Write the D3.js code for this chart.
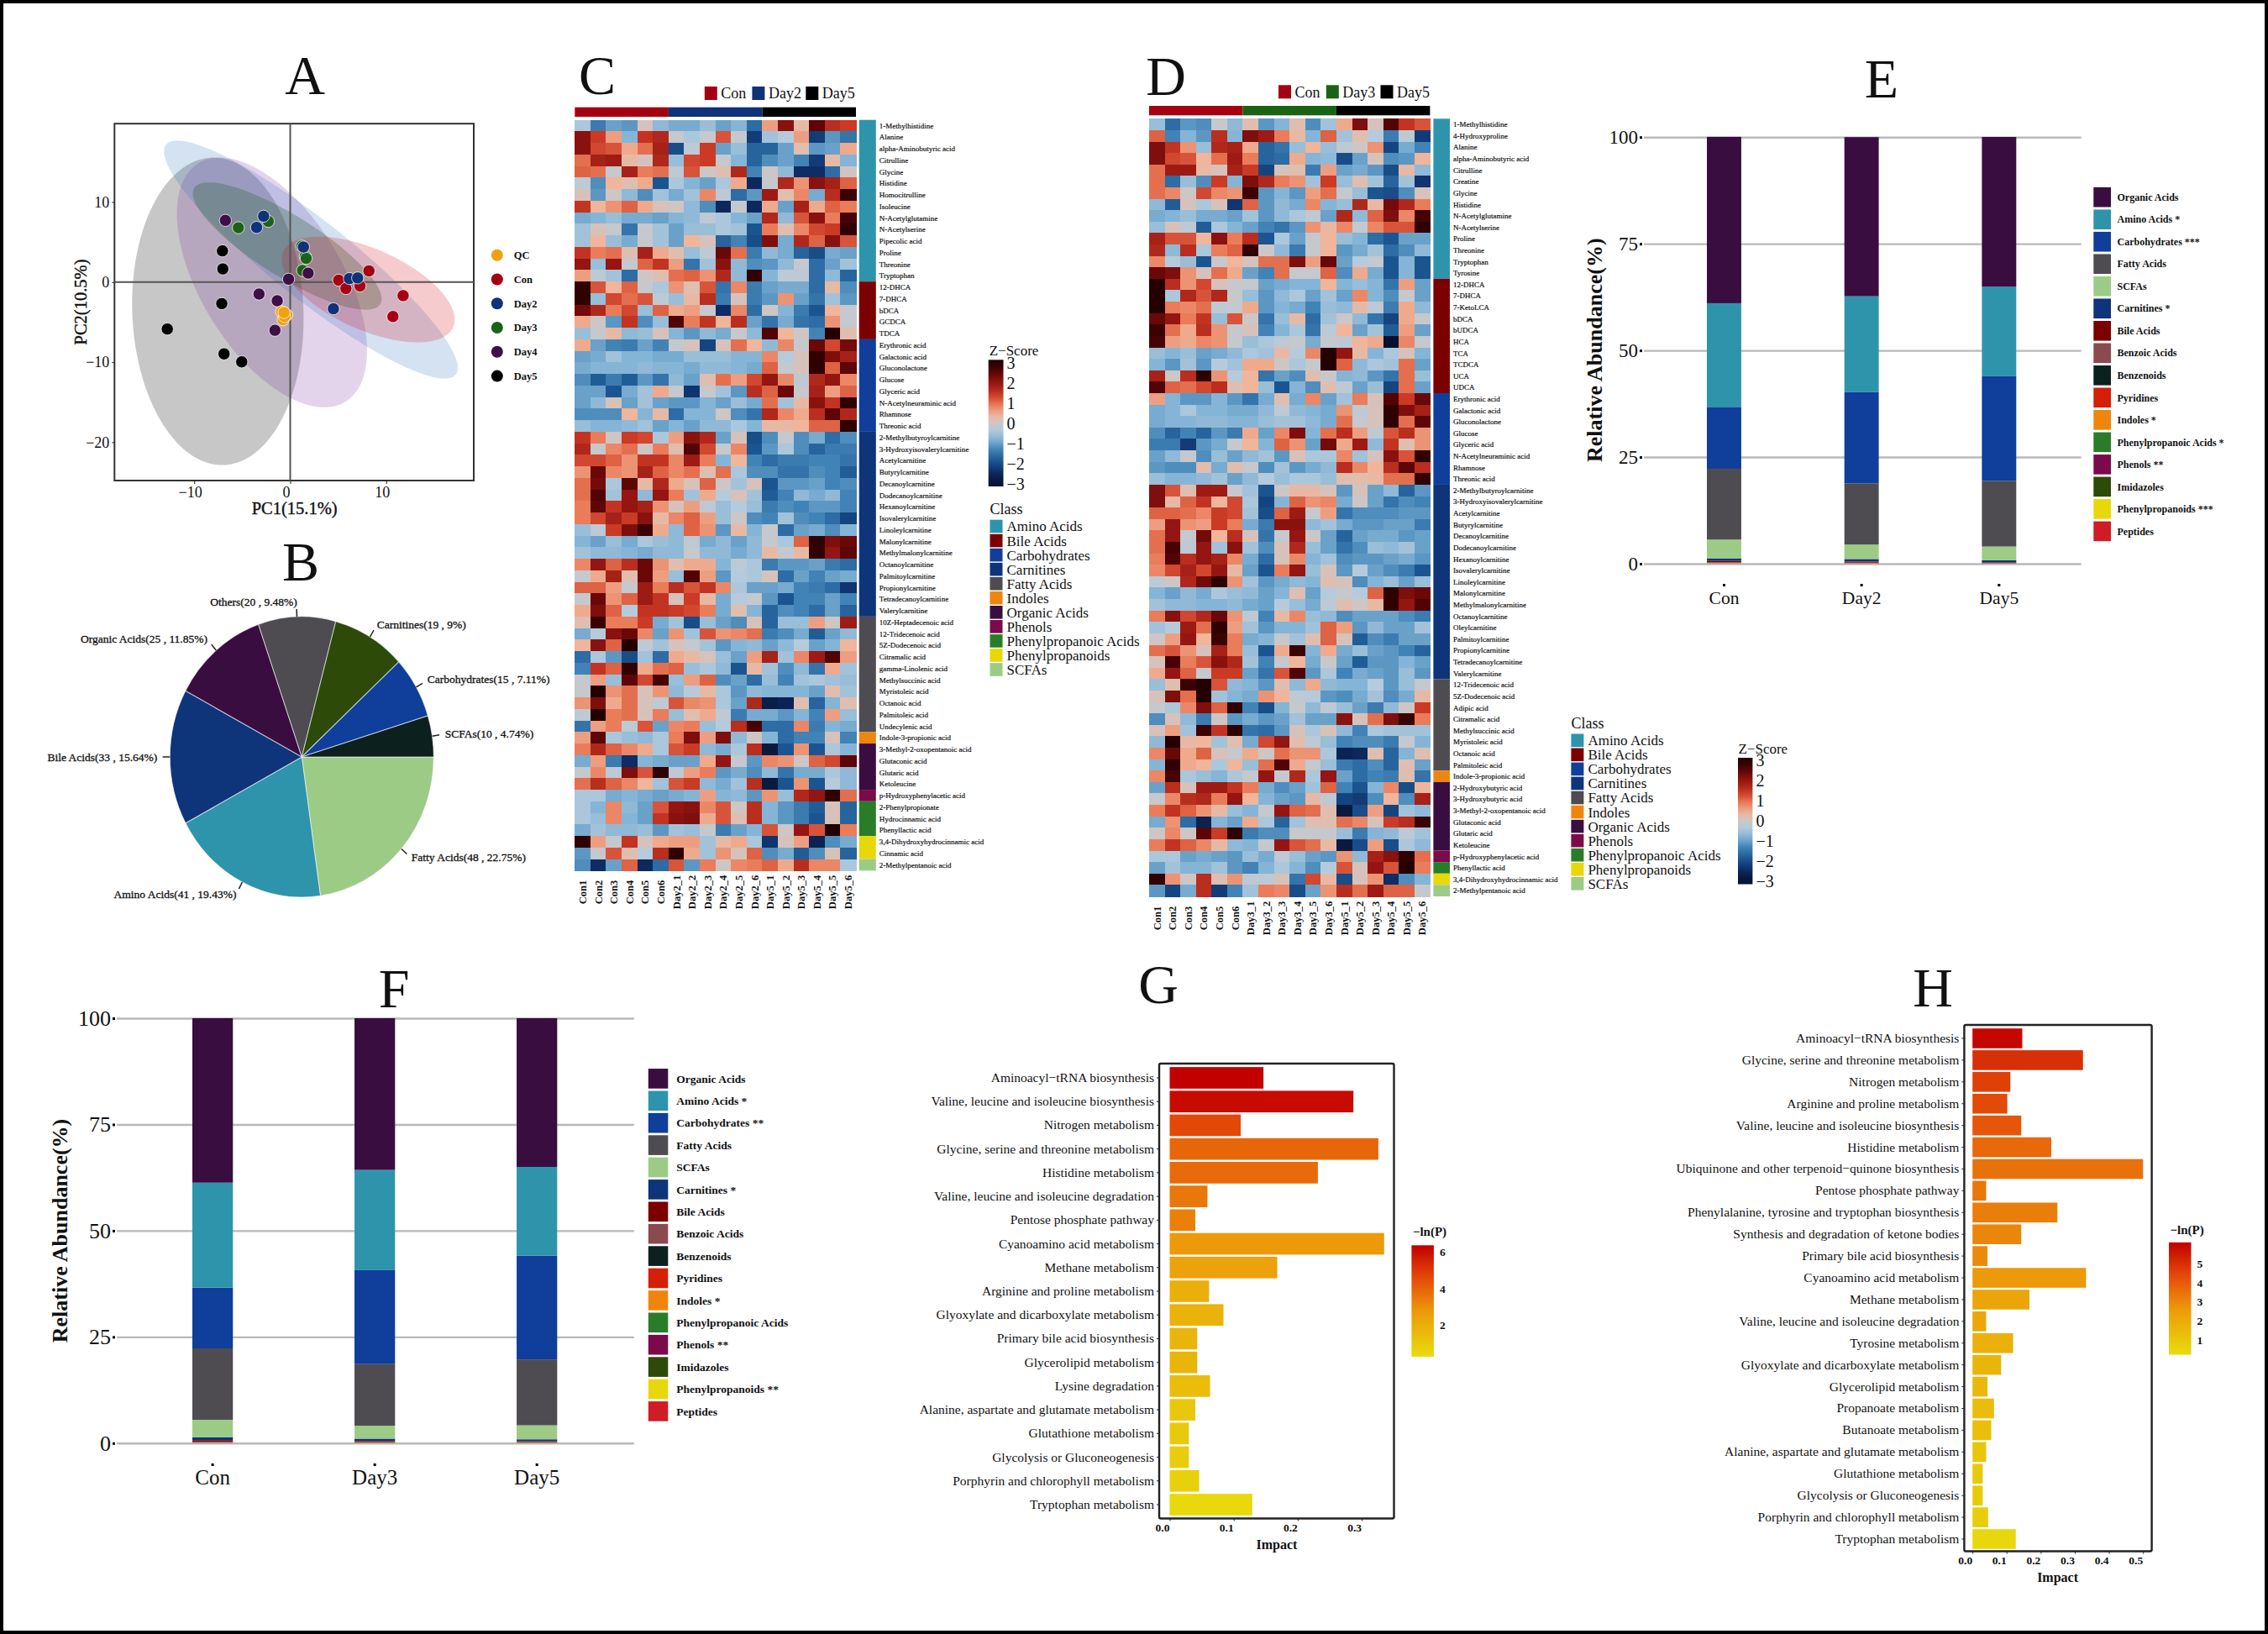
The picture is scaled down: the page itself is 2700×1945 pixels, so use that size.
<!DOCTYPE html>
<html>
<head>
<meta charset="utf-8">
<script src="https://cdn.jsdelivr.net/npm/d3@7"></script>
<style>
  body { margin: 0; background: #fff; }
  text { font-family: "Liberation Serif", serif; fill: #111; }
</style>
</head>
<body>
<div id="chart"></div>
<script>
// ---- panel A: PCA scores
const pcaGroups = ["QC", "Con", "Day2", "Day3", "Day4", "Day5"];
const pcaQC = [[-0.9, -3.7], [-0.35, -4.1], [-0.75, -4.7], [-0.6, -4.3], [-0.65, -3.8]];
const pcaCon = [[5.05, 0.24], [5.8, -0.8], [7.27, -0.48], [8.2, 1.4], [11.76, -1.69], [10.7, -4.3]];
const pcaDay2 = [[-2.77, 8.23], [-3.5, 6.83], [1.38, 4.38], [4.5, -3.33], [6.16, 0.44], [7.02, 0.52]];
const pcaDay3 = [[-5.4, 6.79], [-2.28, 7.59], [1.21, 4.5], [1.56, 3.21], [1.66, 2.97], [1.28, 1.45]];
const pcaDay4 = [[-6.75, 7.71], [1.87, 1.12], [-0.17, 0.36], [-3.25, -1.49], [-1.35, -2.33], [-1.59, -6.02]];
const pcaDay5 = [[-7.06, 3.9], [-7.02, 1.65], [-7.13, -2.69], [-12.8, -5.86], [-6.89, -8.96], [-5.05, -9.96]];
// ellipse: centre x, centre y, half width, half height, correlation
const ellDay5 = [-7.54, -3.65, 8.93, 19.2, -0.05];
const ellDay4 = [-1.9, -0.04, 9.9, 15.6, -0.55];
const ellDay2 = [2.15, 2.81, 15.3, 14.86, -0.91];
const ellDay3 = [-0.31, 4.5, 9.83, 7.95, -0.83];
const ellCon = [8.13, -0.92, 9.0, 6.6, -0.57];

// ---- panel B: class counts
const pieNames = ["Fatty Acids", "Amino Acids", "Bile Acids", "Organic Acids", "Others", "Carnitines", "Carbohydrates", "SCFAs"];
const pieCounts = [48, 41, 33, 25, 20, 19, 15, 10];
const piePercents = ["22.75%", "19.43%", "15.64%", "11.85%", "9.48%", "9%", "7.11%", "4.74%"];
const pieColors = ["#9ccb86", "#2e94ac", "#0e347a", "#3a0d40", "#4e4c50", "#2e4a08", "#0f3e9b", "#0c201e"];

// ---- panels C, D: heatmaps
const samplesC = ["Con1", "Con2", "Con3", "Con4", "Con5", "Con6", "Day2_1", "Day2_2", "Day2_3", "Day2_4", "Day2_5", "Day2_6", "Day5_1", "Day5_2", "Day5_3", "Day5_4", "Day5_5", "Day5_6"];
const samplesD = ["Con1", "Con2", "Con3", "Con4", "Con5", "Con6", "Day3_1", "Day3_2", "Day3_3", "Day3_4", "Day3_5", "Day3_6", "Day5_1", "Day5_2", "Day5_3", "Day5_4", "Day5_5", "Day5_6"];
const heatClasses = ["Amino Acids", "Bile Acids", "Carbohydrates", "Carnitines", "Fatty Acids", "Indoles", "Organic Acids", "Phenols", "Phenylpropanoic Acids", "Phenylpropanoids", "SCFAs"];
const classCountsC = [14, 5, 8, 16, 10, 1, 4, 1, 3, 2, 1];
const classCountsD = [14, 10, 8, 17, 8, 1, 6, 1, 1, 1, 1];

const metabolitesC = ["1-Methylhistidine", "Alanine", "alpha-Aminobutyric acid", "Citrulline", "Glycine", "Histidine", "Homocitrulline", "Isoleucine", "N-Acetylglutamine", "N-Acetylserine", "Pipecolic acid", "Proline", "Threonine", "Tryptophan",
  "12-DHCA", "7-DHCA", "bDCA", "GCDCA", "TDCA",
  "Erythronic acid", "Galactonic acid", "Gluconolactone", "Glucose", "Glyceric acid", "N-Acetylneuraminic acid", "Rhamnose", "Threonic acid",
  "2-Methylbutyroylcarnitine", "3-Hydroxyisovalerylcarnitine", "Acetylcarnitine", "Butyrylcarnitine", "Decanoylcarnitine", "Dodecanoylcarnitine", "Hexanoylcarnitine", "Isovalerylcarnitine", "Linoleylcarnitine", "Malonylcarnitine", "Methylmalonylcarnitine", "Octanoylcarnitine", "Palmitoylcarnitine", "Propionylcarnitine", "Tetradecanoylcarnitine", "Valerylcarnitine",
  "10Z-Heptadecenoic acid", "12-Tridecenoic acid", "5Z-Dodecenoic acid", "Citramalic acid", "gamma-Linolenic acid", "Methylsuccinic acid", "Myristoleic acid", "Octanoic acid", "Palmitoleic acid", "Undecylenic acid",
  "Indole-3-propionic acid",
  "3-Methyl-2-oxopentanoic acid", "Glutaconic acid", "Glutaric acid", "Ketoleucine",
  "p-Hydroxyphenylacetic acid",
  "2-Phenylpropionate", "Hydrocinnamic acid", "Phenyllactic acid",
  "3,4-Dihydroxyhydrocinnamic acid", "Cinnamic acid",
  "2-Methylpentanoic acid"];

const zscoresC = [
  [-.4,-1.4,-1,-1.1,.1,-.7,-.9,-.9,-.6,-1,-.8,-1.6,.6,2.1,.3,2.5,1.6,1.4],
  [2.1,1.4,.6,-.8,1.5,1.7,-.1,-.4,-.1,1.2,-.1,-2.2,-.5,-.3,.6,-2.2,-1.1,-1.5],
  [2.1,1.3,1.2,.5,1,1.8,-2,-.2,1.4,-1,-.6,-1.7,-1.7,-1,.2,-1.1,-1,.5],
  [1,1.8,1.9,.3,.1,1.7,-.6,1.3,1.4,-.1,-.8,-1.7,-1.2,-1,-1.3,-2.2,.3,-.8],
  [1.1,1,-.1,1.8,.9,1,-.2,1.2,0,.2,1.7,-1.3,0,-.7,-2.4,-2.4,-1.6,.05],
  [-.2,-1.2,.4,.2,.5,-1.9,-.4,-.8,-1,-.4,.5,-2.5,-.1,1.7,.7,2.1,1.8,1.1],
  [.1,-1.1,0,-.7,-1.2,-.5,-.9,-.5,.8,-.2,-1.6,-1.1,1.9,.2,.8,-.9,1.6,2.8],
  [1.5,.4,.7,1.1,.5,.1,0,-.7,-1.2,-2.5,-.1,-2.5,.5,-1,1.8,.5,1.1,.9],
  [-.9,-.8,-.6,-.9,-.9,-1,-.8,-.7,-.2,-.4,-.8,-1,1.7,-.7,1.2,2.1,.9,2.7],
  [-.5,.1,-.1,-1.5,-.1,-.5,-1,-.6,-.6,-.4,-.5,-1.9,.9,.2,.8,1.3,1.4,2.9],
  [-.5,.4,-.6,-.9,-.1,-.5,-1,.4,.1,-1.7,-1.3,-2,2.2,-.9,1.7,1.1,2.1,1.2],
  [1.5,.9,1,.2,1.8,.5,.2,-.6,-.2,2.4,1,-1.4,-.7,-.9,-1.7,-2,-.9,-1],
  [2,-.6,2,-.1,1.1,1.5,.6,-1.5,-.5,2.1,-.7,-1.2,-1.1,-.7,-.1,-1.6,-1,-.5],
  [.6,-.2,-.5,-1.6,0,.2,1,1.1,.7,1.7,-.7,2.9,-.8,-.2,-.2,-1.6,-.7,-1.7],
  [2.9,1.2,.4,1.1,-.1,-.4,.7,.2,1.2,-1.5,.8,-1.4,-1,-.9,-.9,-1.6,.3,-1.2],
  [2.9,-.6,1.3,1,1.2,-.2,-.6,.3,1.6,-1.4,.1,-1.4,-1.1,.7,-1,-1.5,-.5,-1.1],
  [2.3,1.7,.9,1.3,-.6,1.1,.5,.6,-.1,-2.4,.8,-1.6,0,-.8,-1.4,-1.9,.4,-.1],
  [.5,0,-1.1,1.5,-1.2,-.6,2.6,.9,1.5,.4,1.6,-1,-1.5,-.9,-1.5,-1.6,.7,-.1],
  [-.6,-.1,.3,-.7,-.6,.1,-.8,-1.1,-.7,-.9,-.1,-.7,2.6,.4,0,-1.3,3,.2],
  [.5,-1,-1.3,-1.4,-1,-1.3,-.1,.1,-2.1,.1,1,.4,-.7,.8,-.1,2.4,1.3,2.3],
  [-1,-.9,-.5,-.8,-.8,-.9,-.9,-.6,-.6,-.6,-.8,-.8,.8,-.3,.1,2.9,2.2,1.8],
  [-.9,-.8,-.8,-.8,-.7,-.8,-.8,-.9,-.7,-.7,-.8,-.9,1.1,-.1,.1,2.9,1.1,2.5],
  [-1.2,-1.8,-1.4,-1.8,-1.1,-1.5,-.7,-1,.2,1,.6,1.3,2,.8,-.2,1.7,2,.8],
  [-1,-1,-1.9,-.9,-.5,.5,-.1,-2.3,-.1,-.5,-1.1,1.6,1.1,2.4,-.1,1.8,.6,1.1],
  [-1,-.7,.1,-1,-.5,-1,-1.1,-1.1,-.8,-1,-.6,-.9,1,-.5,.3,2.1,1.5,2.9],
  [-1.2,-1.2,-1.2,.4,-.8,.3,-1.6,-.8,-.8,0,-1.2,-1.5,1.7,.8,.5,1.6,2.5,1.7],
  [-.6,-.8,-.8,-.7,-.5,-1,-.8,-1,-.7,-.7,-.4,-.8,.3,.3,.4,1.1,1.1,2.9],
  [1.5,.9,0,1.4,1.3,-.4,.6,2.1,1.7,-1,.1,-2,-1.2,-.1,-1.2,-.9,-1.6,-1.2],
  [1.7,-.1,.8,1,0,.9,.2,2.6,1.3,-.1,.8,-1.9,-1.1,-.4,-1.2,-1.7,-1.4,-1.4],
  [1.3,1.3,1.1,.7,1.5,1.5,.8,1.9,.9,-.8,.4,-1.3,-1.6,-1.4,-1.4,-1.3,-1.3,-1.5],
  [.7,2.4,.8,.7,1.8,1.1,.8,1,.2,1,-.4,-1.2,-1.2,-1.5,-1.5,-1.2,-1.3,-1.8],
  [1,2.3,-.4,2.5,.3,1.7,.5,.1,1.1,0,-.5,.1,-1.9,-1.1,-1.1,-1,-1.3,-1.2],
  [1,2.6,-.5,2,-.7,2,.9,-.5,.5,-.3,.1,-.5,-1.8,-1.3,-.7,-.9,-.7,-1.3],
  [.9,2.5,1.5,2,1.8,.7,.1,.6,-.2,-.6,-.3,-.6,-1.4,-1.2,-1.3,-1.1,-1.1,-1.3],
  [.9,1.3,1.8,1.4,2.1,.3,.8,1.1,.6,-.6,0,-1.2,-1.3,-.5,-1.2,-1.3,-1.6,-2.1],
  [-.6,-.2,1.4,2.2,2.8,.5,-.7,1.1,.7,-1.1,.3,-.8,-.1,-1.6,-1,-.9,-1.2,-.8],
  [-.8,-1,-.6,-.9,-.4,-.6,-.7,-.2,-.9,-.7,-1,-.7,-.1,-.4,1.1,2.9,2.2,2.4],
  [-.5,-.7,-.7,-.8,-.9,-.7,-.7,-.1,-.7,-.7,-.9,-.7,.3,-.1,.3,2.9,2,2.5],
  [.8,2,1.1,1.6,2.4,.7,.2,.5,.5,-.8,-.2,-.4,-1.4,-1.1,-1.1,-1,-1.4,-1.6],
  [-.1,.5,1.8,.2,2.4,.6,-.6,2.6,.6,-1.1,-.3,-.4,.1,-1.6,-1,-1.3,-1,-.9],
  [1.1,1.1,.6,-.1,1.9,.9,1.6,1.2,1.5,.8,-.4,-1,-1,-.9,-1.3,-1.4,-1.6,-2.3],
  [-.1,2.4,.7,1.1,1.9,1.5,.1,1.4,.3,-.9,-.3,-.1,-1.1,-1.9,-1.3,-1.3,-1,-1.3],
  [.5,2.2,1.1,-.3,1.5,1.5,1.4,1.3,.9,-.9,.2,-.8,-1.7,-1.2,-1.3,-1.6,-1,-1.7],
  [.2,2.8,.9,.9,1.4,-.9,-.5,-2,-.6,-1,-1.2,.1,-1.7,-.6,-.6,.6,0,1.9],
  [-.9,-.3,2.1,2.4,.8,-1,.7,-.5,1.2,.7,.8,1,-1.4,-1.2,-.9,-1.8,-1,-.7],
  [.4,2.1,1.1,3,-.2,-.5,.1,-.1,-.5,-1.1,-.8,-.7,-1,-.7,-.3,-1,-.8,.4],
  [-1.6,-.4,-1.1,-2,-.5,-1.6,.5,.3,.1,-.6,-1,.6,1.8,-.5,.8,1.9,2.6,.6],
  [-1.3,1.5,1.1,2.9,.5,1,1.1,-.6,-.4,-.7,-1.9,.3,-.5,-1.2,-.7,-1.5,.5,-.5],
  [-.1,.6,-.6,2.5,1.3,2.7,-.6,.6,1.1,-1.2,-1,-1.6,-.6,-1.3,-.5,-.4,-.5,-.6],
  [-.1,3,.7,1,.1,.7,-.7,-.3,.3,-.4,-1.1,-.7,-.8,-.8,-.8,-1,.2,-.5],
  [.7,2.2,.5,1,.1,-.2,1.2,.8,.7,-.4,-1,1.7,-2.7,-2.6,.2,-1.7,-.8,.2],
  [-.2,3,.9,1,.1,.9,-.6,.2,.5,-.2,-1.4,-.9,-.9,-1.1,-.8,-1.3,.6,-.6],
  [-1.5,.6,.9,-.2,1.2,-1,.8,.9,-.6,-.3,1.6,2.7,-1.6,-1.6,.8,-1.4,-.8,-.9],
  [.6,2.5,-.4,-.6,-.7,-.4,.9,2.2,.6,2.2,-.7,0,-.8,-1.6,-1.3,-1.3,.1,-1.3],
  [.9,1.7,1.1,.8,.5,-.4,1.2,1.4,-.7,-.9,-.4,1.6,-2.8,-1.9,.7,-1.9,-.4,-.8],
  [-.9,.6,-1.4,-2.4,-.8,-.9,-1,-1,.5,2,-.1,-1.1,.8,.7,0,1.1,1.3,2.5],
  [-.1,.8,-.2,2.2,1.2,2.9,-.2,.6,.9,-1.1,-.9,-1.2,-.7,-1.5,-.9,-.9,-.4,-.7],
  [1,1.6,1.1,.8,.4,-.5,1.2,1.4,-.7,-.9,-.5,1.6,-2.8,-1.9,.7,-1.9,-.3,-.7],
  [-.4,-.4,-.9,-.8,-.9,-1,-.9,-.8,.6,-.8,-.7,-1.1,.7,-.6,1.7,2,2.9,1],
  [-.4,-.8,.8,-.7,-1,1.2,2,2.1,.8,1.2,0,1.6,-.8,-1.1,-1.4,-1.8,.1,-1.7],
  [-.4,-.6,.8,-.8,-1,1.5,2.1,2.2,.5,1.2,.2,1.6,-.8,-1.1,-1.4,-1.9,.1,-1.7],
  [-.9,-.5,-.7,-.7,-.6,-1.1,-.5,-.6,-.1,-1.4,-1,-.8,1.2,0,2,1.2,3,.9],
  [2.9,.6,-.1,1.5,.1,.5,.6,.6,-.5,.3,.5,-.4,-2.3,.1,.6,-2.6,-1.2,-.9],
  [-1.1,-.1,1.2,.2,-.3,1.6,2.9,.5,-.5,.7,.1,1.1,-1.2,-.9,-1.8,-1.2,.1,-1.7],
  [-1.2,-2.4,-1,1.1,-2.5,-1.6,1.2,-1.1,.9,0,.8,.9,1.1,.5,1.6,.8,.8,-.4]
];

const metabolitesD = ["1-Methylhistidine", "4-Hydroxyproline", "Alanine", "alpha-Aminobutyric acid", "Citrulline", "Creatine", "Glycine", "Histidine", "N-Acetylglutamine", "N-Acetylserine", "Proline", "Threonine", "Tryptophan", "Tyrosine",
  "12-DHCA", "7-DHCA", "7-KetoLCA", "bDCA", "bUDCA", "HCA", "TCA", "TCDCA", "UCA", "UDCA",
  "Erythronic acid", "Galactonic acid", "Gluconolactone", "Glucose", "Glyceric acid", "N-Acetylneuraminic acid", "Rhamnose", "Threonic acid",
  "2-Methylbutyroylcarnitine", "3-Hydroxyisovalerylcarnitine", "Acetylcarnitine", "Butyrylcarnitine", "Decanoylcarnitine", "Dodecanoylcarnitine", "Hexanoylcarnitine", "Isovalerylcarnitine", "Linoleylcarnitine", "Malonylcarnitine", "Methylmalonylcarnitine", "Octanoylcarnitine", "Oleylcarnitine", "Palmitoylcarnitine", "Propionylcarnitine", "Tetradecanoylcarnitine", "Valerylcarnitine",
  "12-Tridecenoic acid", "5Z-Dodecenoic acid", "Adipic acid", "Citramalic acid", "Methylsuccinic acid", "Myristoleic acid", "Octanoic acid", "Palmitoleic acid",
  "Indole-3-propionic acid",
  "2-Hydroxybutyric acid", "3-Hydroxybutyric acid", "3-Methyl-2-oxopentanoic acid", "Glutaconic acid", "Glutaric acid", "Ketoleucine",
  "p-Hydroxyphenylacetic acid",
  "Phenyllactic acid",
  "3,4-Dihydroxyhydrocinnamic acid",
  "2-Methylpentanoic acid"];

const zscoresD = [
  [-.6,-1.6,-1.1,-1.2,-.1,-.7,.2,-1.1,-.8,.2,-1.2,-.5,.5,2.2,.1,2.6,1.5,1.2],
  [1.1,-1.3,-.8,-1.1,1.6,-.8,2.2,1.9,.9,.3,-.8,1.1,-.5,.2,-.3,-1.4,-.2,-2.2],
  [2.2,1.5,.7,-.6,1.7,1.8,.5,-1.7,-1.5,-.6,.4,-.6,-.2,0,.7,-2.1,-.9,-1.3],
  [2.2,1.3,1.2,.4,1,1.9,.9,-1.7,-1.6,.5,-.8,-.7,-2,-1,.1,-1.2,-1.1,.4],
  [1,1.9,1.9,.3,.1,1.8,1.4,-2.1,.1,.2,-1.4,.6,-1,-.9,-1.1,-2,.3,-.7],
  [1,-1.6,-.6,-1.2,1.4,-.8,2.2,1.7,.9,.7,-.5,1.4,-.6,.2,-.5,-1.7,-.5,-2.3],
  [1,.8,0,1.3,.8,.7,2.8,-1.1,-.8,-1.1,.6,1,-.1,-.6,-1.9,-2,-1.2,.1],
  [-.7,-1.8,.1,-.4,.1,-2.3,1.1,-1.1,-.7,-.9,.8,-.8,-.6,1.7,.3,2.3,1.7,.9],
  [-.9,-.8,-.6,-.9,-.9,-1,-.5,-1.1,-.7,-.4,-.2,-1,1.7,-.7,1.1,2.2,.8,2.7],
  [-.6,.1,-.2,-1.8,-.4,-.8,-1,-1.3,-1.5,-1.1,.7,.3,.8,-.1,.8,1.2,1.2,2.9],
  [1.8,1.2,1.2,.4,2.1,.9,1.6,-1.9,-.4,-1,-.1,.4,-.6,-.8,-1.6,-1.9,-1,-1],
  [1.7,-.7,1.6,-.4,.9,1.1,2.9,0,-.7,-1.4,-.1,.4,-1.1,-.9,-.5,-1.6,-1.2,-.7],
  [.8,-.3,-.6,-1.9,-.1,.4,.1,1,1,2.2,.6,2.4,-1,-.3,-.1,-1.9,-.8,-1.9],
  [2.4,2.2,.7,.1,1,.5,-1,-1.3,1,-.1,-.1,1.1,-1.2,.5,-.9,-1.9,-.8,-1.9],
  [3,1.6,.7,1.3,.1,-.1,-.1,-1,-.9,-.8,-.8,.4,-.8,-.6,-.8,-1.5,.6,-1],
  [3,-.4,1.7,1.2,1.7,-.1,-.6,-1.1,-.7,-.4,-1,-.5,-1,.8,-.8,-1.2,-.1,-1],
  [3,.9,.8,1,-.2,-.1,.5,-1.1,-.8,-.9,-1.3,-.6,-.7,.3,-.2,-1.4,.5,-.7],
  [2.4,2,.9,1.5,-.6,1.2,0,-1.5,-.6,.3,-1.6,-.5,0,-.7,-1.5,-2.1,.5,-.1],
  [2.8,1,.5,1.6,.7,-.1,.1,-1.3,-.8,-.4,-1.5,-.2,.4,-1,-.5,-1.8,.6,-1],
  [2.7,.6,.5,.8,.7,-.1,-.6,-.4,-.2,-.1,-.9,-.1,-.2,.4,.5,-3,.8,-.1],
  [-.6,-.8,-.6,-1,-.9,-.7,-.4,-.5,.3,-.3,.8,3,2,.3,-.8,-.4,.1,-.8],
  [-.8,-1.1,-.5,-1.1,-.3,-.5,.5,.5,0,-.4,-.1,3,1.1,-.7,-.4,-.5,1,-1],
  [1.8,0,1.6,2.9,.7,-.3,.4,-1.5,-1,-1.2,.2,-.1,-.8,-.7,-1.1,-1.5,1,-.6],
  [2.6,1.1,1,1.3,1.6,.2,.4,-.6,-1.9,-.8,-1.2,.2,-.2,-1,-.6,-2.1,1,-1],
  [.6,-.8,-1.1,-1.1,-.8,-1.1,-1.5,-.9,.2,-.9,.8,-1,-.5,.9,.1,2.6,1.4,2.4],
  [-.9,-.8,-.4,-.8,-.8,-.9,-.9,-.7,-.2,-.7,-.8,-.9,.7,-.2,.1,2.9,2.2,1.8],
  [-.9,-.8,-.8,-.7,-.7,-.8,-.8,-.6,-.5,-.5,-.7,-.9,1,-.1,.1,2.9,1,2.5],
  [-1.2,-1.7,-1.3,-1.7,-1.1,-1.4,.5,-1,.8,2.2,-.8,1,1.6,.6,-.2,1.2,1.6,.7],
  [-1.4,-1.4,-2.2,-1.1,-.9,-.1,.4,-.8,1.1,.7,-1,2.3,.5,1.9,-.7,1.5,.2,.7],
  [-1,-.7,-.1,-1.2,-.6,-1,-.7,-.5,-1.1,.1,-.4,-.4,.8,-.5,.1,2.1,1.2,2.9],
  [-1.1,-1.2,-1.2,.2,-.9,.2,-.1,-1.2,-.5,-1.1,-.9,-.7,1.6,.8,.4,1.6,2.5,1.6],
  [-.6,-.8,-.8,-.7,-.5,-1,-.7,-.3,-.6,-.4,-.4,-.6,.2,.2,.3,1,1,2.9],
  [2.2,1.2,.2,1.9,1.9,-.1,-.5,-1.9,0,.3,.3,.1,-1.1,.1,-1,-.7,-1.7,-1.1],
  [2.2,.3,1.1,1.5,.4,1.3,-.4,-2.1,-.8,1.1,.7,.8,-.9,0,-1,-1.5,-1.2,-1.3],
  [1.1,1.1,1,.8,1.4,1.3,-.5,-2,1.1,1.9,-.1,.6,-1.5,-1.2,-1.2,-1.2,-1.1,-1.1],
  [.6,2,.7,.6,1.4,.9,-.9,-1.4,2.1,2.1,-.7,-.5,-.9,-1.1,-1.1,-1,-1,-1.4],
  [1,2,-.1,2.3,.4,1.6,.1,-1.5,-.1,2,0,-1,-1.7,-1,-.9,-.9,-1.1,-1],
  [1,2.7,-.2,2,-.5,2.1,-.5,-1.2,.1,1.7,-.6,-1,-1.5,-1.2,-.6,-.7,-.5,-1],
  [.9,2.6,1.6,2,1.8,.8,-.9,-1.6,.1,.8,-.8,-.5,-1.2,-1.1,-1.1,-1,-.9,-1.1],
  [.8,1.3,1.8,1.3,2,.3,-1,-1.9,.9,2,-.6,.1,-1.1,-.3,-1,-1.2,-1.4,-1.9],
  [-.2,0,1.7,2.3,2.9,.7,-.5,-1.1,-.9,-.7,-.8,.2,.1,-1.2,-.8,-.6,-1,-.6],
  [-.8,-1,-.7,-.9,-.4,-.6,-.7,-1,-.8,.2,-1,-.3,-.1,-.3,1.1,2.9,2.2,2.4],
  [-.5,-.7,-.7,-.8,-.8,-.7,-.9,-1,-.3,-.6,-.9,-.2,.2,0,.3,2.9,2,2.6],
  [.9,2.1,1.3,1.7,2.4,.7,-.2,-1.3,.3,.8,-.6,-.7,-1.2,-1,-1,-1,-1.2,-1.4],
  [-.5,-.3,1.9,1,2.9,.6,-.5,-1.1,-.8,-.8,-.5,1.1,.6,-1.1,-.7,-1,-1,-.5],
  [0,.6,2,.4,2.8,.9,-.9,-.8,-.1,-.5,.2,1.1,.1,-1.8,-1.2,-1.4,-1,-1],
  [1,1.2,.7,.1,1.8,.9,-.6,-1.9,.5,2.8,-.8,.5,-.9,-.6,-1,-1.1,-1.3,-1.7],
  [.1,2.7,.9,1.2,2.1,1.7,-.5,-1.3,-.1,.4,-.9,-.1,-1,-1.8,-1.1,-1.1,-.8,-1],
  [.5,2,1.1,-.1,1.4,1.4,-1,-1.5,1.2,2.6,-1.1,-.4,-1.3,-.9,-1,-1.1,-.6,-1.1],
  [-.6,.2,2.8,3,1.2,-.7,-.8,-1.1,.2,-.7,.5,-.7,-.8,-.8,-.3,-1.1,-.6,-.1],
  [.1,2.2,1,3,-.5,-.8,-.9,.7,.4,-.2,-.3,-1.1,-1.2,-.9,-.5,-1.2,-.9,.3],
  [-.1,-.4,.8,2.2,1.1,2.9,-1.3,-2,-.8,-.1,-.7,-.2,-.6,-1,-1.4,-.7,0,1.4],
  [-1.2,.1,-.7,-1.4,0,-1.1,-.9,-1.1,-1,-.5,-1,-1,2.1,.1,1,2.2,2.8,.9],
  [.1,.6,-.5,2.8,1.5,2.9,-1.5,-1.6,-1.1,.1,-.4,.1,-.7,-1.3,-.4,-.5,-.5,-.5],
  [-.7,3,.3,.4,-.5,.2,-.9,1.3,2,.2,-.2,-.6,-1.3,-1.2,-1.2,-1.4,-.1,-.8],
  [.8,2.4,.5,1.1,.1,-.1,.5,0,1,.7,.7,-.4,-2.6,-2.5,.2,-1.7,-.8,.2],
  [-.8,2.9,.5,.4,-.4,.4,-.6,1,2.6,.5,-.1,-.6,-1.4,-1.6,-1.2,-1.7,.2,-1],
  [.8,2.7,-.4,-.6,-.8,-.4,-.1,2,-.1,1.7,-.4,2,-1,-1.6,-1.3,-1.4,.2,-1.5],
  [-1,1.6,.1,1.9,1.9,1.5,.9,-.9,-1.2,-1,-.5,1.1,-1.3,-1.9,-.8,.8,-2,.4],
  [-.1,.8,1.6,1.7,.9,2,.4,-.8,-1,-1.1,.3,-.2,-2.1,-2.2,-1.2,.4,-1.2,1.8],
  [.9,1.5,1.1,.7,.3,-.6,-.8,-.1,2,1.1,1,.2,-2.8,-2,.6,-2.1,-.5,-.7],
  [-.9,.7,-1.6,-2.6,-.8,-1,.5,-.4,-1.7,-.5,.2,.2,1,.8,.1,1.4,1.6,2.8],
  [0,.8,0,2.5,1.4,2.9,-1.4,-1.2,-1.2,-.1,-.1,-.1,-.6,-1.4,-.8,-.7,-.2,-.5],
  [.9,1.5,1.1,.8,.3,-.7,-.8,-.1,2,1.2,1,.3,-2.8,-2,.6,-2,-.4,-.7],
  [-.4,-.4,-1,-.9,-1,-1.1,-.6,-.9,-.2,-.6,-1,-1.1,.7,-.7,1.8,2.1,2.9,1],
  [-1,-.5,-.8,-.8,-.5,-1.1,-1.3,-.8,-.4,-.8,-1.2,-.3,1.2,.1,2,1.2,3,.9],
  [2.9,.7,0,1.6,.2,.7,-.2,-.2,.1,-1.5,1.3,.3,-2,.1,.7,-2.4,-1.2,-.8],
  [-1.1,-2.1,-.9,1.6,-2.2,-1.3,-.5,.9,.8,-2,-1,.7,1.6,1,1.9,1.1,1.1,-.1]
];
const zTicks = [-3, -2, -1, 0, 1, 2, 3];

// ---- panels E, F: stacked abundance
const stackClasses = ["Organic Acids", "Amino Acids", "Carbohydrates", "Fatty Acids", "SCFAs", "Carnitines", "Bile Acids", "Benzoic Acids", "Benzenoids", "Pyridines", "Indoles", "Phenylpropanoic Acids", "Phenols", "Imidazoles", "Phenylpropanoids", "Peptides"];
const starsE = ["", "*", "***", "", "", "*", "", "", "", "", "*", "*", "**", "", "***", ""];
const starsF = ["", "*", "**", "", "", "*", "", "", "", "", "*", "", "**", "", "**", ""];
const stackGroupsE = ["Con", "Day2", "Day5"];
const stackGroupsF = ["Con", "Day3", "Day5"];
const abundE = [
  [39.0, 24.3, 14.5, 16.6, 4.4, .6, .35, .03, .02, .05, .09, .02, .02, .02, .04, .02],
  [37.3, 22.5, 21.4, 14.3, 3.4, .6, .25, .03, .02, .05, .06, .01, .02, .01, .03, .02],
  [35.1, 21.0, 24.5, 15.4, 3.2, .5, .15, .02, .02, .03, .05, .01, .01, .01, .02, .01]
];
const abundF = [
  [38.7, 24.7, 14.3, 16.8, 4.1, .7, .4, .03, .02, .05, .09, .02, .02, .02, .04, .01],
  [35.7, 23.6, 22.1, 14.5, 3.05, .55, .25, .03, .02, .05, .06, .01, .02, .01, .03, .02],
  [35.0, 20.9, 24.4, 15.5, 3.3, .45, .2, .03, .02, .05, .06, .01, .02, .01, .03, .02]
];
const abundTicks = [0, 25, 50, 75, 100];

// ---- panels G, H: pathway impact
const pathwaysG = ["Aminoacyl\u2212tRNA biosynthesis", "Valine, leucine and isoleucine biosynthesis", "Nitrogen metabolism", "Glycine, serine and threonine metabolism", "Histidine metabolism", "Valine, leucine and isoleucine degradation", "Pentose phosphate pathway", "Cyanoamino acid metabolism", "Methane metabolism", "Arginine and proline metabolism", "Glyoxylate and dicarboxylate metabolism", "Primary bile acid biosynthesis", "Glycerolipid metabolism", "Lysine degradation", "Alanine, aspartate and glutamate metabolism", "Glutathione metabolism", "Glycolysis or Gluconeogenesis", "Porphyrin and chlorophyll metabolism", "Tryptophan metabolism"];
const impactG = [.1465, .287, .111, .326, .2315, .059, .04, .335, .168, .0615, .084, .043, .043, .063, .04, .03, .03, .046, .129];
const lnPG = [6.38, 6.1, 4.6, 3.9, 3.8, 3.5, 3.3, 2.7, 2.4, 1.9, 1.8, 1.7, 1.7, 1.4, 1.0, .9, .85, .7, .4];
const pathwaysH = ["Aminoacyl\u2212tRNA biosynthesis", "Glycine, serine and threonine metabolism", "Nitrogen metabolism", "Arginine and proline metabolism", "Valine, leucine and isoleucine biosynthesis", "Histidine metabolism", "Ubiquinone and other terpenoid\u2212quinone biosynthesis", "Pentose phosphate pathway", "Phenylalanine, tyrosine and tryptophan biosynthesis", "Synthesis and degradation of ketone bodies", "Primary bile acid biosynthesis", "Cyanoamino acid metabolism", "Methane metabolism", "Valine, leucine and isoleucine degradation", "Tyrosine metabolism", "Glyoxylate and dicarboxylate metabolism", "Glycerolipid metabolism", "Propanoate metabolism", "Butanoate metabolism", "Alanine, aspartate and glutamate metabolism", "Glutathione metabolism", "Glycolysis or Gluconeogenesis", "Porphyrin and chlorophyll metabolism", "Tryptophan metabolism"];
const impactH = [.146, .324, .111, .102, .143, .231, .5, .04, .249, .143, .044, .333, .167, .04, .119, .084, .044, .063, .055, .04, .03, .03, .046, .127];
const lnPH = [5.95, 5.0, 4.6, 4.4, 4.1, 3.7, 3.5, 3.35, 3.2, 3.0, 2.95, 2.6, 2.2, 2.1, 1.8, 1.6, 1.5, 1.35, 1.25, 1.0, .9, .85, .75, .4];

// ---- colours
const classColor = {
  "Amino Acids": "#2e94ac", "Bile Acids": "#7b0000", "Carbohydrates": "#0f3e9b", "Carnitines": "#0e347a",
  "Fatty Acids": "#4e4c50", "Indoles": "#ee860e", "Organic Acids": "#3a0d40", "Phenols": "#7b0a4a",
  "Phenylpropanoic Acids": "#2a7d28", "Phenylpropanoids": "#e8d80a", "SCFAs": "#9ccb86",
  "Benzoic Acids": "#8b4a50", "Benzenoids": "#0c201e", "Pyridines": "#d42006", "Imidazoles": "#2e4a08",
  "Peptides": "#d01c24"
};
const groupColor = { QC: "#f0a010", Con: "#a50012", Day2: "#0f3278", Day3: "#1b6314", Day4: "#3e0f48", Day5: "#000000" };

const zColor = d3.scaleLinear()
  .domain([-3, -2.4, -1.9, -1.3, -0.8, -0.3, 0, 0.4, 0.9, 1.4, 2, 2.5, 3])
  .range(["#06112f", "#0e2c66", "#1a5591", "#4183b6", "#85b5d6", "#b5cbdc", "#cdc6c5", "#f0b59a", "#ea7c5a", "#cb3a24", "#941511", "#5e0505", "#240000"])
  .clamp(true);

const impactStops = d3.scaleLinear()
  .domain([0, 0.4, 0.68, 1])
  .range(["#e8dc0c", "#ec9a0a", "#e6500a", "#c20000"]);

const svg = d3.select("#chart").append("svg")
  .attr("width", 2700)
  .attr("height", 1945)
  .attr("viewBox", "0 0 2700 1945");

svg.append("rect").attr("width", 2700).attr("height", 1945).attr("fill", "#fff");
svg.append("rect").attr("x", 2).attr("y", 2).attr("width", 2696).attr("height", 1941)
  .attr("fill", "none").attr("stroke", "#000").attr("stroke-width", 4);

const defs = svg.append("defs");

function panelTitle(label, x, y) {
  svg.append("text").attr("x", x).attr("y", y)
    .attr("text-anchor", "middle").attr("dominant-baseline", "central")
    .attr("font-size", 66).text(label);
}

function styleAxis(g, size, weight, color) {
  g.selectAll("text").attr("font-size", size).attr("font-weight", weight || "normal")
    .style("font-family", "'Liberation Serif', serif").style("fill", "#111");
  g.selectAll("line").attr("stroke", color || "#222");
  g.select(".domain").remove();
}

// thin outline makes the small regular text read as heavy as the blurred original
function heavy(sel, w) {
  return sel.attr("stroke", "#111").attr("stroke-width", w || 0.25);
}

// ------------------------------------------------------ A
function drawPca() {
  const x = d3.scaleLinear().domain([-10, 10]).range([231.2, 459.8]);
  const y = d3.scaleLinear().domain([-20, 10]).range([526.4, 240.5]);
  const box = { l: 136.3, r: 564, t: 147.2, b: 572 };
  panelTitle("A", 363, 89);

  const ellipse = ([cx, cy, sx, sy, rho]) => {
    const phi = Math.acos(rho);
    const pts = d3.range(0, 2 * Math.PI, 0.04).map(t => [x(cx + sx * Math.cos(t)), y(cy + sy * Math.cos(t - phi))]);
    return d3.line().curve(d3.curveCardinalClosed)(pts);
  };
  const ellipses = [
    [ellDay5, "#000000", 0.22], [ellDay4, "#7a2a9a", 0.2], [ellDay2, "#2a6fc0", 0.2],
    [ellDay3, "#1b5a20", 0.28], [ellCon, "#d8141c", 0.22]
  ];
  svg.append("g").selectAll("path").data(ellipses).join("path")
    .attr("d", d => ellipse(d[0])).attr("fill", d => d[1]).attr("fill-opacity", d => d[2]);

  svg.append("rect").attr("x", box.l).attr("y", box.t)
    .attr("width", box.r - box.l).attr("height", box.b - box.t)
    .attr("fill", "none").attr("stroke", "#333").attr("stroke-width", 2);
  svg.append("line").attr("x1", x(0)).attr("x2", x(0)).attr("y1", box.t).attr("y2", box.b)
    .attr("stroke", "#555").attr("stroke-width", 2);
  svg.append("line").attr("x1", box.l).attr("x2", box.r).attr("y1", y(0)).attr("y2", y(0))
    .attr("stroke", "#555").attr("stroke-width", 2);

  const xg = svg.append("g").attr("transform", `translate(0,${box.b})`)
    .call(d3.axisBottom(x).tickValues([-10, 0, 10]).tickSize(4).tickPadding(3));
  styleAxis(xg, 18);
  xg.selectAll("text").attr("dx", -5);
  const yg = svg.append("g").attr("transform", `translate(${box.l},0)`)
    .call(d3.axisLeft(y).tickValues([-20, -10, 0, 10]).tickSize(3).tickPadding(3));
  styleAxis(yg, 18);

  heavy(svg.append("text").attr("x", 350.6).attr("y", 604.5).attr("text-anchor", "middle")
    .attr("dominant-baseline", "central").attr("font-size", 20.5).text("PC1(15.1%)"), 0.4);
  heavy(svg.append("text").attr("transform", "translate(96.4,359.5) rotate(-90)").attr("text-anchor", "middle")
    .attr("dominant-baseline", "central").attr("font-size", 20.5).text("PC2(10.5%)"), 0.4);

  const sets = [pcaDay5, pcaDay3, pcaDay4, pcaCon, pcaDay2, pcaQC];
  const names = ["Day5", "Day3", "Day4", "Con", "Day2", "QC"];
  sets.forEach((set, i) => {
    svg.append("g").selectAll("circle").data(set).join("circle")
      .attr("cx", d => x(d[0])).attr("cy", d => y(d[1])).attr("r", 7.2)
      .attr("fill", groupColor[names[i]]).attr("stroke", "#fff").attr("stroke-opacity", 0.75).attr("stroke-width", 1);
  });

  const ly = d3.scalePoint().domain(pcaGroups).range([303.7, 447.6]);
  const leg = svg.append("g").selectAll("g").data(pcaGroups).join("g")
    .attr("transform", d => `translate(591.8,${ly(d)})`);
  leg.append("circle").attr("r", 7).attr("fill", d => groupColor[d]);
  leg.append("text").attr("x", 20).attr("dy", ".35em").attr("font-size", 12.5).attr("font-weight", "bold").text(d => d);
}

// ------------------------------------------------------ B
function drawPie() {
  panelTitle("B", 358, 668);
  const cx = 359.3, cy = 901, rx = 157, ry = 167;
  const data = pieNames.map((name, i) => ({ name, count: pieCounts[i], pct: piePercents[i], color: pieColors[i] }));
  const arcs = d3.pie().value(d => d.count).sort(null)
    .startAngle(Math.PI / 2).endAngle(Math.PI / 2 + 2 * Math.PI)(data);
  const arc = d3.arc().innerRadius(0).outerRadius(rx);
  const g = svg.append("g").attr("transform", `translate(${cx},${cy})`);
  g.append("g").attr("transform", `scale(1,${ry / rx})`).selectAll("path").data(arcs).join("path")
    .attr("d", arc).attr("fill", d => d.data.color)
    .attr("stroke", "#fff").attr("stroke-opacity", 0.6).attr("stroke-width", 1);

  // label anchors, relative to the pie centre, same order as pieNames
  const labelAt = [[130.5, 119, "start"], [-77.9, 163.7, "end"], [-172, 0, "end"], [-112.3, -140.3, "end"],
    [-5.5, -184.3, "end"], [89.4, -157.7, "start"], [149.5, -92.7, "start"], [170.4, -27.7, "start"]];
  arcs.forEach((d, i) => {
    const mid = (d.startAngle + d.endAngle) / 2;
    const dirX = Math.sin(mid), dirY = -Math.cos(mid);
    g.append("line")
      .attr("x1", dirX * rx).attr("y1", dirY * ry)
      .attr("x2", dirX * rx * 1.055).attr("y2", dirY * ry * 1.055)
      .attr("stroke", "#222").attr("stroke-width", 1.5);
    heavy(g.append("text").attr("x", labelAt[i][0]).attr("y", labelAt[i][1])
      .attr("text-anchor", labelAt[i][2]).attr("dominant-baseline", "central")
      .attr("font-size", 13.5)
      .text(`${d.data.name}(${d.data.count} , ${d.data.pct})`), 0.3);
  });
}

// ------------------------------------------------------ C, D
function drawHeatmap(cfg) {
  panelTitle(cfg.title, cfg.titleX, cfg.titleY);
  const x = d3.scaleBand().domain(cfg.samples).range([cfg.x0, cfg.x1]);
  const y = d3.scaleBand().domain(d3.range(cfg.rows.length)).range([cfg.y0, cfg.y1]);

  const cells = cfg.values.flatMap((row, r) => row.map((v, c) => ({ r, c, v })));
  svg.append("g").attr("shape-rendering", "crispEdges").selectAll("rect").data(cells).join("rect")
    .attr("x", d => x(cfg.samples[d.c])).attr("y", d => y(d.r))
    .attr("width", x.bandwidth() + 0.5).attr("height", y.bandwidth() + 0.5)
    .attr("fill", d => zColor(d.v));

  // sample group bar on top
  const groups = d3.groups(cfg.samples, s => s.startsWith("Day") ? s.split("_")[0] : "Con");
  svg.append("g").selectAll("rect").data(groups).join("rect")
    .attr("x", d => x(d[1][0])).attr("y", cfg.annY0)
    .attr("width", d => x.bandwidth() * d[1].length).attr("height", cfg.annY1 - cfg.annY0)
    .attr("fill", d => groupColor[d[0]]);

  // top legend
  cfg.groupLegend.forEach(([name, sq]) => {
    svg.append("rect").attr("x", sq).attr("y", cfg.legY - 8).attr("width", 15).attr("height", 16).attr("fill", groupColor[name]);
    svg.append("text").attr("x", sq + 19.5).attr("y", cfg.legY).attr("dy", ".35em").attr("font-size", 18).text(name);
  });

  // class strip
  let start = 0;
  cfg.classCounts.forEach((n, i) => {
    svg.append("rect").attr("x", cfg.barX0).attr("y", y(start))
      .attr("width", cfg.barX1 - cfg.barX0).attr("height", y.bandwidth() * n)
      .attr("fill", classColor[heatClasses[i]]);
    start += n;
  });

  heavy(svg.append("g").selectAll("text").data(cfg.rows).join("text")
    .attr("x", cfg.barX1 + 4).attr("y", (d, i) => y(i) + y.bandwidth() / 2).attr("dy", ".35em")
    .attr("font-size", 9).text(d => d), 0.2);

  svg.append("g").selectAll("text").data(cfg.samples).join("text")
    .attr("transform", d => `translate(${x(d) + x.bandwidth() / 2},${cfg.colY}) rotate(-90)`)
    .attr("text-anchor", "middle").attr("dy", ".35em")
    .attr("font-size", 12.5).attr("font-weight", "bold").text(d => d);

  // class legend
  svg.append("text").attr("x", cfg.clsX).attr("y", cfg.clsTitleY).attr("dy", ".35em").attr("font-size", 18).text("Class");
  const ly = d3.scalePoint().domain(heatClasses).range([cfg.clsY0, cfg.clsY1]);
  const leg = svg.append("g").selectAll("g").data(heatClasses).join("g")
    .attr("transform", d => `translate(${cfg.clsX},${ly(d)})`);
  leg.append("rect").attr("y", -7.8).attr("width", 15).attr("height", 15.6).attr("fill", d => classColor[d]);
  leg.append("text").attr("x", 20).attr("dy", ".35em").attr("font-size", 17).text(d => d);

  // z-score bar
  const zs = d3.scaleLinear().domain([-3, 3]).range([cfg.zY0, cfg.zY1]);
  const gid = "z" + cfg.title;
  const grad = defs.append("linearGradient").attr("id", gid)
    .attr("gradientUnits", "userSpaceOnUse").attr("x1", 0).attr("x2", 0)
    .attr("y1", cfg.zBarTop).attr("y2", cfg.zBarBottom);
  grad.selectAll("stop").data(d3.range(0, 1.001, 0.05)).join("stop")
    .attr("offset", d => d)
    .attr("stop-color", d => zColor(zs.invert(cfg.zBarTop + d * (cfg.zBarBottom - cfg.zBarTop))));
  svg.append("rect").attr("x", cfg.zX).attr("y", cfg.zBarTop).attr("width", cfg.zW)
    .attr("height", cfg.zBarBottom - cfg.zBarTop).attr("fill", `url(#${gid})`);
  const zg = svg.append("g").attr("transform", `translate(${cfg.zX + cfg.zW},0)`)
    .call(d3.axisRight(zs).tickValues(zTicks).tickFormat(d3.format("d")).tickSize(0).tickPadding(4));
  styleAxis(zg, 20);
  svg.append("text").attr("x", cfg.zTitleX).attr("y", cfg.zTitleY).attr("text-anchor", "middle")
    .attr("dominant-baseline", "central").attr("font-size", 17).text("Z\u2212Score");
}

// ------------------------------------------------------ E, F
function drawStack(cfg) {
  panelTitle(cfg.title, cfg.titleX, cfg.titleY);
  const y = d3.scaleLinear().domain([0, 100]).range([cfg.y0, cfg.y100]);
  const x = d3.scaleBand().domain(cfg.groups).range([cfg.barX0, cfg.barX1]).paddingInner(0.75);

  const grid = svg.append("g").attr("transform", `translate(${cfg.gridX0},0)`)
    .call(d3.axisLeft(y).tickValues(abundTicks).tickSize(-(cfg.gridX1 - cfg.gridX0)).tickFormat(""));
  grid.select(".domain").remove();
  grid.selectAll("line").attr("stroke", "#b9b9bd").attr("stroke-width", 2.4);

  const rows = cfg.groups.map((g, i) => {
    const o = { group: g };
    stackClasses.forEach((k, j) => { o[k] = cfg.values[i][j]; });
    return o;
  });
  const series = d3.stack().keys(stackClasses.slice().reverse())(rows);
  svg.append("g").selectAll("g").data(series).join("g")
    .attr("fill", d => classColor[d.key])
    .selectAll("rect").data(d => d).join("rect")
    .attr("x", d => x(d.data.group)).attr("width", x.bandwidth())
    .attr("y", d => y(d[1])).attr("height", d => y(d[0]) - y(d[1]));

  const yg = svg.append("g").attr("transform", `translate(${cfg.gridX0 - 2},0)`)
    .call(d3.axisLeft(y).tickValues(abundTicks).tickSize(3).tickPadding(2));
  styleAxis(yg, cfg.tickFont, "normal", "#000");
  yg.selectAll("line").attr("stroke-width", 3);

  const xg = svg.append("g").attr("transform", `translate(0,${cfg.xAxisY})`)
    .call(d3.axisBottom(x).tickSize(3).tickPadding(cfg.xPad));
  styleAxis(xg, cfg.xFont, "normal", "#000");
  xg.selectAll("line").attr("stroke-width", 3);

  svg.append("text").attr("transform", `translate(${cfg.yTitleX},${cfg.yTitleY}) rotate(-90)`)
    .attr("text-anchor", "middle").attr("dominant-baseline", "central")
    .attr("font-size", cfg.yTitleFont).attr("font-weight", "bold").text("Relative Abundance(%)");

  const ly = d3.scalePoint().domain(stackClasses).range([cfg.legY0, cfg.legY1]);
  const leg = svg.append("g").selectAll("g").data(stackClasses).join("g")
    .attr("transform", d => `translate(${cfg.legX},${ly(d)})`);
  leg.append("rect").attr("y", -11.8).attr("width", cfg.legW).attr("height", 23.6).attr("fill", d => classColor[d]);
  leg.append("text").attr("x", cfg.legTextDx).attr("dy", ".35em").attr("font-size", cfg.legFont).attr("font-weight", "bold")
    .text((d, i) => d + (cfg.stars[i] ? " " + cfg.stars[i] : ""));
}

// ------------------------------------------------------ G, H
function drawPathway(cfg) {
  panelTitle(cfg.title, cfg.titleX, cfg.titleY);
  const x = d3.scaleLinear().domain([0, 0.1]).range([cfg.x0, cfg.x0 + cfg.xPer01]);
  const y = d3.scaleBand().domain(cfg.names).range([cfg.rowFirst - cfg.rowStep / 2, cfg.rowLast + cfg.rowStep / 2])
    .paddingInner(0.09).paddingOuter(0.045);
  const lo = cfg.barLo, hi = cfg.barHi;
  const color = v => impactStops(Math.max(0, Math.min(1, (v - lo) / (hi - lo))));

  svg.append("g").selectAll("rect").data(cfg.names).join("rect")
    .attr("x", x(0)).attr("y", d => y(d))
    .attr("width", (d, i) => x(cfg.impact[i]) - x(0)).attr("height", y.bandwidth())
    .attr("fill", (d, i) => color(cfg.lnP[i]));

  svg.append("rect").attr("x", cfg.boxL).attr("y", cfg.boxT).attr("rx", 2)
    .attr("width", cfg.boxR - cfg.boxL).attr("height", cfg.boxB - cfg.boxT)
    .attr("fill", "none").attr("stroke", "#222").attr("stroke-width", 2.4);

  const yg = svg.append("g").attr("transform", `translate(${cfg.boxL},0)`)
    .call(d3.axisLeft(y).tickSize(3).tickPadding(3));
  styleAxis(yg, 15.5);

  const xg = svg.append("g").attr("transform", `translate(0,${cfg.boxB})`)
    .call(d3.axisBottom(x).tickValues(cfg.xTicks).tickFormat(d3.format(".1f")).tickSize(3).tickPadding(3));
  styleAxis(xg, 13.5, "bold");
  xg.selectAll("text").attr("dx", -9);

  svg.append("text").attr("x", cfg.impactX).attr("y", cfg.impactY).attr("text-anchor", "middle")
    .attr("dominant-baseline", "central").attr("font-size", 16).attr("font-weight", "bold").text("Impact");

  // -ln(P) colour bar
  const bar = d3.scaleLinear().domain(cfg.barTicksDomain).range(cfg.barTicksRange);
  const gid = "p" + cfg.title;
  const grad = defs.append("linearGradient").attr("id", gid).attr("x1", 0).attr("x2", 0).attr("y1", 1).attr("y2", 0);
  grad.selectAll("stop").data(d3.range(0, 1.001, 0.1)).join("stop")
    .attr("offset", d => d).attr("stop-color", d => impactStops(d));
  svg.append("rect").attr("x", cfg.barX).attr("y", bar(hi)).attr("width", 26.5)
    .attr("height", bar(lo) - bar(hi)).attr("fill", `url(#${gid})`);
  const bg = svg.append("g").attr("transform", `translate(${cfg.barX + 26.5},0)`)
    .call(d3.axisRight(bar).tickValues(cfg.barTicks).tickFormat(d3.format("d")).tickSize(0).tickPadding(7));
  styleAxis(bg, 13.5, "bold");
  svg.append("text").attr("x", cfg.barTitleX).attr("y", cfg.barTitleY).attr("text-anchor", "middle")
    .attr("dominant-baseline", "central").attr("font-size", 15).attr("font-weight", "bold").text("\u2212ln(P)");
}

drawPca();
drawPie();

drawHeatmap({
  title: "C", titleX: 711, titleY: 89, samples: samplesC, rows: metabolitesC, values: zscoresC, classCounts: classCountsC,
  x0: 684.3, x1: 1019, y0: 142.7, y1: 1036.3, annY0: 127.7, annY1: 139, barX0: 1022.7, barX1: 1042.8, colY: 1062,
  legY: 111, groupLegend: [["Con", 838.8], ["Day2", 895.4], ["Day5", 959.3]],
  clsX: 1178.5, clsTitleY: 605.8, clsY0: 626.5, clsY1: 797,
  zX: 1176.7, zW: 17.8, zBarTop: 428.3, zBarBottom: 579, zY0: 575.7, zY1: 431.7, zTitleX: 1207, zTitleY: 417
});
drawHeatmap({
  title: "D", titleX: 1388, titleY: 90, samples: samplesD, rows: metabolitesD, values: zscoresD, classCounts: classCountsD,
  x0: 1368, x1: 1702.4, y0: 141.3, y1: 1067, annY0: 126, annY1: 137.3, barX0: 1706.4, barX1: 1726, colY: 1093,
  legY: 109.3, groupLegend: [["Con", 1522], ["Day3", 1578.8], ["Day5", 1643.5]],
  clsX: 1870.4, clsTitleY: 860.6, clsY0: 881.3, clsY1: 1051.8,
  zX: 2069, zW: 17.4, zBarTop: 902, zBarBottom: 1052.5, zY0: 1049, zY1: 905.4, zTitleX: 2098.8, zTitleY: 891
});

drawStack({
  title: "E", titleX: 2240, titleY: 93, groups: stackGroupsE, values: abundE, stars: starsE,
  y0: 671, y100: 163.2, barX0: 2032, barX1: 2400.3, gridX0: 1957, gridX1: 2477.6,
  tickFont: 23, xFont: 21.5, xAxisY: 695, xPad: 6, yTitleX: 1898, yTitleY: 416.7, yTitleFont: 26,
  legX: 2492.3, legW: 20.7, legTextDx: 28.2, legY0: 234.7, legY1: 632.4, legFont: 12
});
drawStack({
  title: "F", titleX: 469, titleY: 1176, groups: stackGroupsF, values: abundF, stars: starsF,
  y0: 1717.8, y100: 1212, barX0: 229, barX1: 663.3, gridX0: 139, gridX1: 754.8,
  tickFont: 26, xFont: 25, xAxisY: 1742, xPad: 4, yTitleX: 71.7, yTitleY: 1465, yTitleFont: 26,
  legX: 771.8, legW: 23.5, legTextDx: 33.5, legY0: 1283.9, legY1: 1679.9, legFont: 13.5
});

drawPathway({
  title: "G", titleX: 1379, titleY: 1171, names: pathwaysG, impact: impactG, lnP: lnPG,
  x0: 1392.5, xPer01: 76.2, xTicks: [0, .1, .2, .3], rowFirst: 1283, rowLast: 1791, rowStep: 28.22,
  boxL: 1380, boxR: 1659.5, boxT: 1266, boxB: 1807.5, impactX: 1520, impactY: 1838,
  barX: 1680.4, barLo: .24, barHi: 6.38, barTicks: [2, 4, 6], barTicksDomain: [2, 6], barTicksRange: [1576.9, 1490.5],
  barTitleX: 1702, barTitleY: 1466
});
drawPathway({
  title: "H", titleX: 2301, titleY: 1175, names: pathwaysH, impact: impactH, lnP: lnPH,
  x0: 2348.2, xPer01: 40.6, xTicks: [0, .1, .2, .3, .4, .5], rowFirst: 1236, rowLast: 1832, rowStep: 25.91,
  boxL: 2338.4, boxR: 2561.6, boxT: 1220, boxB: 1846.5, impactX: 2449.6, impactY: 1877.8,
  barX: 2582, barLo: .21, barHi: 6.12, barTicks: [1, 2, 3, 4, 5], barTicksDomain: [1, 5], barTicksRange: [1594.7, 1504.2],
  barTitleX: 2603.6, barTitleY: 1464
});
</script>
</body>
</html>
